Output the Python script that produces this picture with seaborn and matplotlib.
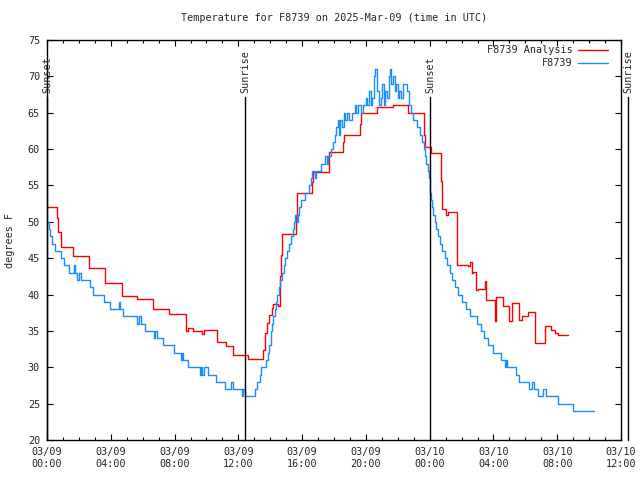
import matplotlib
matplotlib.use("Agg")
import matplotlib.pyplot as plt
import matplotlib.dates as mdates
import seaborn as sns
import pandas as pd
import numpy as np

# ---------------- data (hours since 2025-03-09 00:00 UTC) ----------------
obs_hours = [0.00, 0.10, 0.20, 0.32, 0.48, 0.88, 1.07, 1.35, 1.70, 1.78, 1.90, 2.00, 2.13, 2.70, 2.89,
             3.58, 3.95, 4.52, 4.60, 4.77, 5.65, 5.80, 5.90, 6.15, 6.70, 6.78, 6.88, 7.28, 7.97, 8.40,
             8.47, 8.55, 8.85, 9.60, 9.65, 9.75, 9.85, 10.10, 10.60, 11.17, 11.55, 11.65, 12.25, 12.32,
             12.40, 13.05, 13.15, 13.35, 13.45, 13.75, 13.85, 13.95, 14.02, 14.08, 14.14, 14.20, 14.27,
             14.35, 14.45, 14.55, 14.62, 14.75, 14.85, 14.95, 15.05, 15.20, 15.30, 15.40, 15.50, 15.58,
             15.65, 15.72, 15.80, 15.95, 16.20, 16.45, 16.55, 16.65, 16.80, 16.90, 17.20, 17.45, 17.55,
             17.65, 17.80, 17.95, 18.05, 18.15, 18.22, 18.30, 18.40, 18.50, 18.60, 18.70, 18.80, 18.95,
             19.10, 19.30, 19.40, 19.50, 19.70, 19.85, 20.00, 20.10, 20.20, 20.30, 20.40, 20.50, 20.58,
             20.68, 20.80, 20.92, 21.02, 21.12, 21.22, 21.32, 21.42, 21.52, 21.60, 21.70, 21.80, 21.90,
             22.00, 22.10, 22.22, 22.35, 22.58, 22.68, 22.80, 22.95, 23.20, 23.40, 23.52, 23.62, 23.72,
             23.80, 23.88, 23.95, 24.00, 24.05, 24.10, 24.17, 24.24, 24.32, 24.42, 24.52, 24.62, 24.78,
             24.95, 25.10, 25.25, 25.42, 25.60, 25.80, 26.00, 26.28, 26.50, 26.95, 27.20, 27.40, 27.65,
             27.95, 28.50, 28.72, 28.78, 28.85, 29.40, 29.60, 30.24, 30.40, 30.55, 30.80, 31.10, 31.30,
             32.07, 33.00, 34.30]
obs_temp = [50, 49, 48, 47, 46, 45, 44, 43, 44, 43, 42, 43, 42, 41, 40,
            39, 38, 39, 38, 37, 36, 37, 36, 35, 34, 35, 34, 33, 32, 31,
            32, 31, 30, 29, 30, 29, 30, 29, 28, 27, 28, 27, 26, 27,
            26, 27, 28, 29, 30, 31, 32, 33, 34, 35, 36, 37, 38,
            39, 40, 41, 42, 43, 44, 45, 46, 47, 48, 49, 50, 51,
            50, 51, 52, 53, 54, 55, 56, 57, 56, 57, 58, 59, 58,
            59, 60, 61, 62, 63, 64, 62, 64, 63, 65, 64, 65, 64,
            65, 66, 65, 66, 65, 66, 67, 66, 68, 66, 67, 70, 71,
            68, 66, 67, 69, 66, 68, 67, 70, 71, 69, 70, 68, 69,
            67, 68, 67, 69, 68, 66, 65, 64, 63, 62, 61, 60, 59,
            58, 57, 56, 55, 54, 53, 52, 51, 50, 49, 48, 47, 46,
            45, 44, 43, 42, 41, 40, 39, 38, 37, 36, 35, 34, 33,
            32, 31, 30, 31, 30, 29, 28, 27, 28, 27, 26, 27, 26,
            25, 24, 24]

ana_hours = [0.00, 0.62, 0.70, 0.85, 1.65, 2.65, 3.65, 4.69, 5.66, 6.67, 7.67, 8.70, 8.85, 9.18, 9.70,
             9.85, 10.68, 11.23, 11.69, 12.60, 13.57, 13.65, 13.78, 13.95, 14.10, 14.20, 14.47, 14.60,
             14.66, 14.72, 15.60, 15.70, 16.64, 16.70, 17.67, 17.71, 18.59, 18.65, 19.64, 19.68, 20.68,
             21.20, 21.69, 22.67, 23.65, 23.71, 24.07, 24.72, 24.76, 25.05, 25.15, 25.70, 26.40, 26.55,
             26.65, 26.74, 26.93, 27.00, 27.48, 27.55, 28.08, 28.15, 28.62, 28.97, 29.15, 29.63, 29.78,
             30.15, 30.63, 31.25, 31.58, 31.85, 32.05, 32.67]
ana_temp = [52.1, 50.5, 48.6, 46.6, 45.3, 43.6, 41.55, 39.85, 39.4, 38.0, 37.3, 35.0, 35.35, 35.0, 34.6,
            35.1, 33.5, 32.9, 31.7, 31.15, 32.4, 34.75, 36.1, 37.2, 38.1, 38.65, 38.4, 42.5,
            45.4, 48.3, 51.0, 53.9, 55.5, 56.9, 58.5, 59.6, 61.0, 61.9, 63.5, 64.9, 65.75,
            65.83, 66.06, 65.0, 62.0, 60.25, 59.4, 55.6, 51.8, 50.9, 51.3, 44.1, 43.9, 44.5,
            42.9, 43.1, 40.6, 40.8, 41.8, 39.25, 36.3, 39.7, 38.4, 36.3, 38.8, 36.5, 37.05,
            37.65, 33.3, 35.7, 35.1, 34.65, 34.5, 34.5]

sun_labels = ["Sunset", "Sunrise", "Sunset", "Sunrise"]
sun_hours = [0.0, 12.43, 24.03, 36.45]

y_ticks = [20, 25, 30, 35, 40, 45, 50, 55, 60, 65, 70, 75]
title_text = "Temperature for F8739 on 2025-Mar-09 (time in UTC)"
ana_name = "F8739 Analysis"
obs_name = "F8739"

# ---------------- build ----------------
base = pd.Timestamp("2025-03-09 00:00")
obs_df = pd.DataFrame({"time": base + pd.to_timedelta(obs_hours, unit="h"), "temp": obs_temp})
ana_df = pd.DataFrame({"time": base + pd.to_timedelta(ana_hours, unit="h"), "temp": ana_temp})
sun_times = base + pd.to_timedelta(sun_hours, unit="h")

sns.set_style("ticks")
FONT = ["DejaVu Sans Mono", "DejaVu Sans"]
plt.rcParams["font.family"] = FONT
FS = 7.3

fig = plt.figure(figsize=(6.4, 4.8), dpi=100)
ax = fig.add_axes([47 / 640, 1 - 440 / 480, (621 - 47) / 640, 400 / 480])

RED = "#ff0000"
BLUE = "#1a8cff"
sns.lineplot(data=ana_df, x="time", y="temp", ax=ax, color=RED, lw=1.0,
             drawstyle="steps-post", label=ana_name, estimator=None, sort=False)
sns.lineplot(data=obs_df, x="time", y="temp", ax=ax, color=BLUE, lw=1.0,
             drawstyle="steps-post", label=obs_name, estimator=None, sort=False)

xmin = base
xmax = base + pd.Timedelta(hours=36)
ax.set_xlim(xmin, xmax)
ax.set_ylim(20, 75)

trans = ax.get_xaxis_transform()
for lab, t in zip(sun_labels, sun_times):
    ax.plot([t, t], [0, 0.857], transform=trans, color="black", lw=1.0, clip_on=False, zorder=5)
    ax.text(t, 0.868, lab, transform=trans, rotation=90, ha="center", va="bottom",
            fontsize=FS, family=FONT, clip_on=False)

ax.xaxis.set_major_locator(mdates.HourLocator(byhour=range(0, 24, 4)))
ax.xaxis.set_minor_locator(mdates.HourLocator())
ax.xaxis.set_major_formatter(mdates.DateFormatter("%m/%d\n%H:%M"))
ax.set_yticks(y_ticks)

ax.tick_params(axis="both", which="both", direction="in", top=True, right=True,
               labelsize=FS, color="black", width=0.8)
ax.tick_params(axis="both", which="major", length=4, pad=5)
ax.tick_params(axis="x", which="minor", length=2.5)
for lab in ax.get_xticklabels() + ax.get_yticklabels():
    lab.set_family(FONT)

for s in ax.spines.values():
    s.set_color("black")
    s.set_linewidth(1.0)

ax.set_xlabel("")
ax.set_ylabel("degrees F", fontsize=FS, family=FONT, labelpad=9)
ax.set_title(title_text, fontsize=FS, family=FONT, pad=14)

leg = ax.legend(loc="upper right", bbox_to_anchor=(1 - 8 / 574, 1.0), frameon=False,
                markerfirst=False, fontsize=FS,
                handlelength=3.0, handletextpad=0.5, labelspacing=0.3,
                borderaxespad=0.3, borderpad=0.2)
for txt in leg.get_texts():
    txt.set_family(FONT)
    txt.set_ha("right")

fig.savefig("out.png", dpi=100)
